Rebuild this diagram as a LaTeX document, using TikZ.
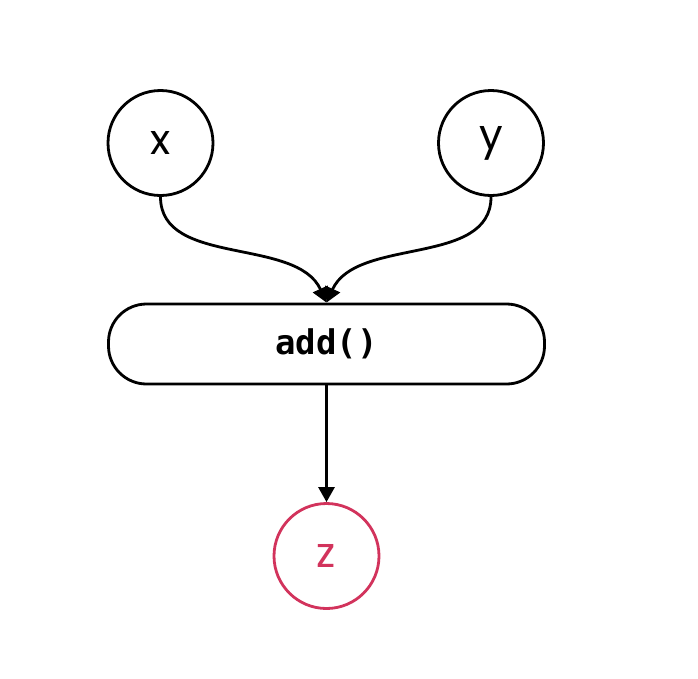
\documentclass[tikz,border=0pt]{standalone}
\usepackage{fontspec}
\setmainfont{Poppins}
\newfontfamily\codefont{DejaVu Sans Mono}
\usetikzlibrary{arrows.meta,calc}
\definecolor{zred}{HTML}{D2335C}
\begin{document}
\begin{tikzpicture}[x=1pt,y=-1pt,
  var/.style={circle,draw,line width=2.8pt,minimum size=105pt,inner sep=0pt,font=\fontsize{42}{46}\selectfont},
  func/.style={rounded corners=38pt,draw,line width=2.8pt,minimum width=436pt,minimum height=80pt,inner sep=0pt,font=\codefont\bfseries\fontsize{34}{38}\selectfont},
  conn/.style={line width=2.8pt,-{Triangle[width=16pt,length=15pt]}}]
\useasboundingbox (0,0) rectangle (698,678);
\node[var] (x) at (160.5,143) {x};
\node[var] (y) at (491,143) {y};
\node[func] (add) at (326.5,344) {add()};
\node[var,draw=zred,text=zred] (z) at (326.5,556) {z};
\draw[conn] (x.south) .. controls ++(0,70) and ($(add.north)+(-30,-66)$) .. (add.north);
\draw[conn] (y.south) .. controls ++(0,70) and ($(add.north)+(30,-66)$) .. (add.north);
\draw[conn] (add.south) -- (z.north);
\end{tikzpicture}
\end{document}
